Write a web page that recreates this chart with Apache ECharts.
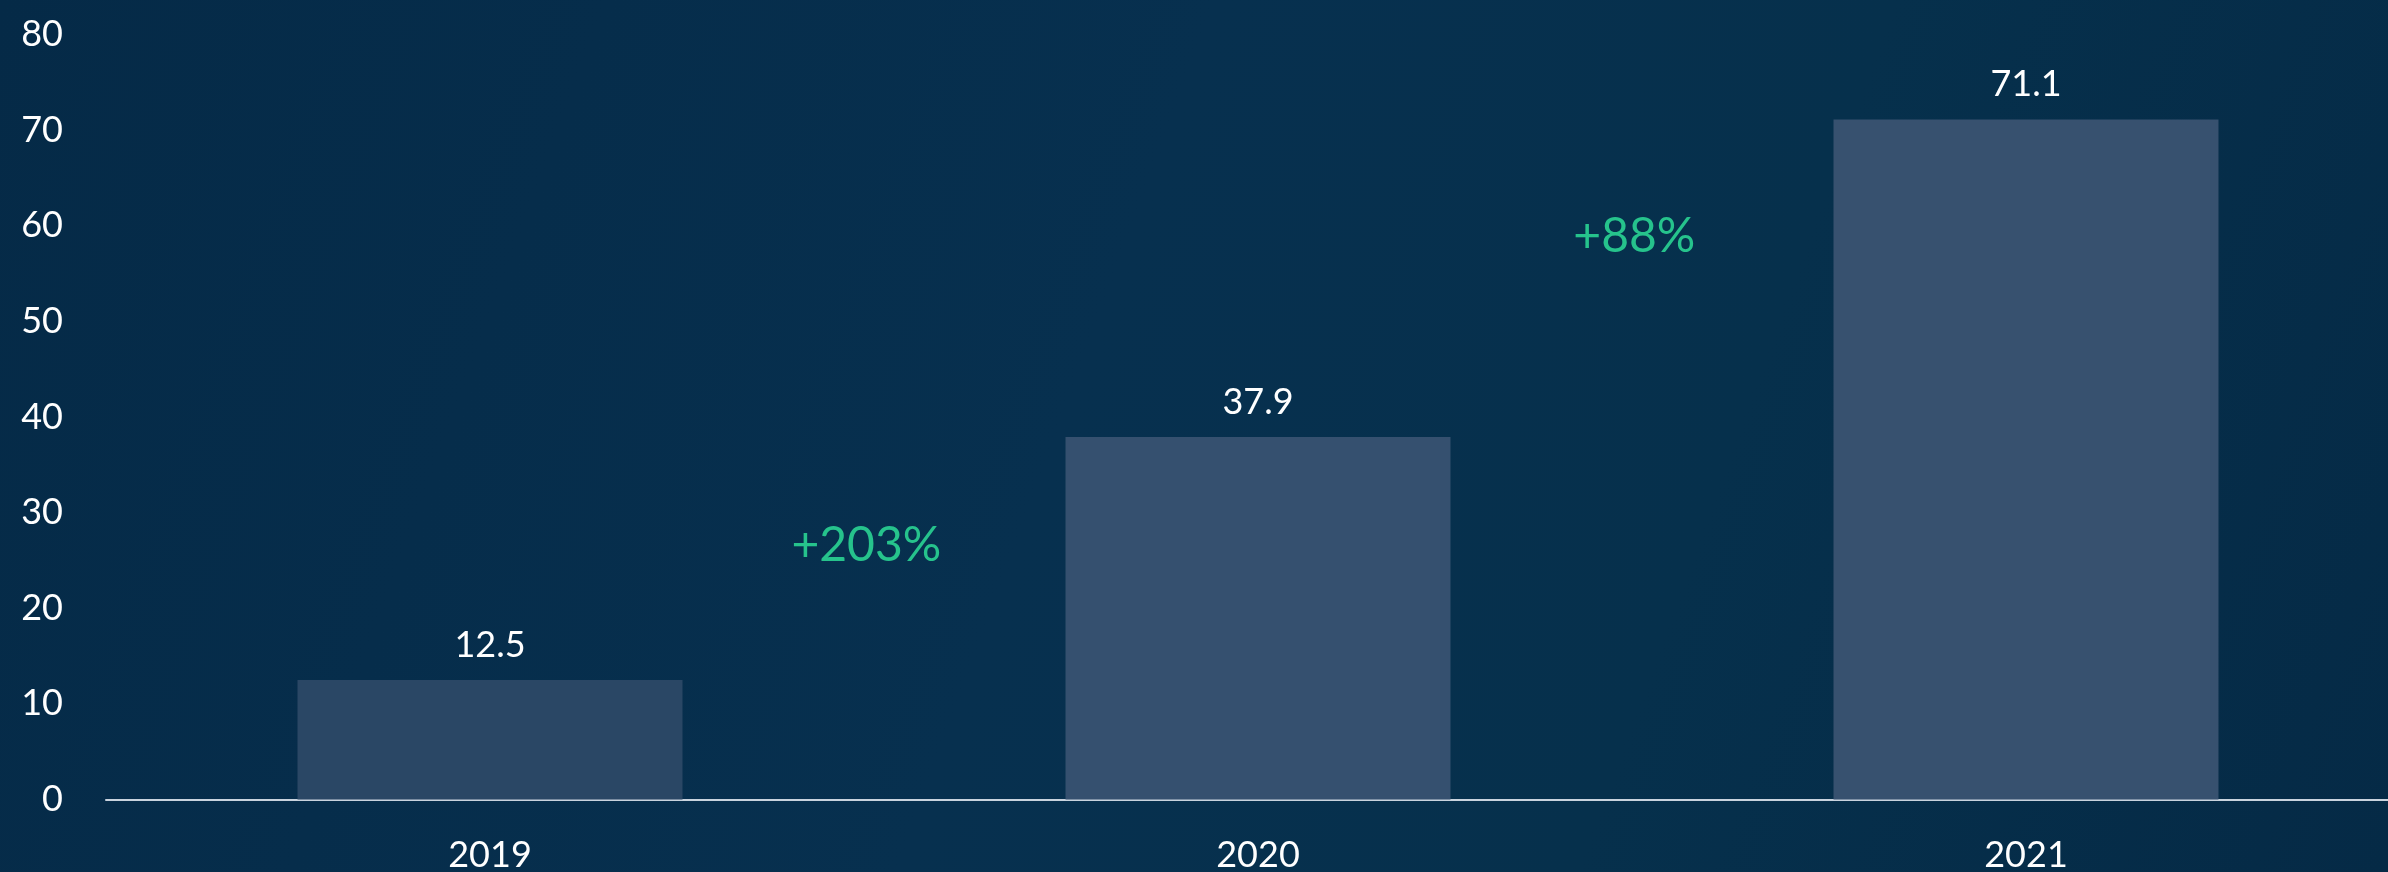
<!DOCTYPE html>
<html>
<head>
<meta charset="utf-8">
<style>
html,body{margin:0;padding:0;width:2388px;height:872px;overflow:hidden;background:#062b48;}
#c{width:2388px;height:872px;}
</style>
<script src="https://cdn.jsdelivr.net/npm/echarts@6/dist/echarts.min.js"></script>
</head>
<body>
<div id="c"></div>
<script>
const categories = ['2019', '2020', '2021'];
const values = [12.5, 37.9, 71.1];
const yTicks = [0, 10, 20, 30, 40, 50, 60, 70, 80];
const growthLabels = ['+203%', '+88%'];
const growthX = [0.49, 1.49];
const growthY = [26.6, 58.9];

const barColors = ['#2a4765', '#35506f', '#37516f'];
const FONT = 'Lato, "Noto Sans", sans-serif';

const chart = echarts.init(document.getElementById('c'), null, {renderer: 'canvas'});
chart.setOption({
  backgroundColor: {
    type: 'linear', x: 0, y: 0, x2: 1, y2: 1,
    colorStops: [
      {offset: 0, color: '#052a47'},
      {offset: 0.45, color: '#07304f'},
      {offset: 0.7, color: '#06304c'},
      {offset: 1, color: '#052a46'}
    ]
  },
  animation: false,
  grid: {left: 106, top: 34.5, width: 2304, height: 765, containLabel: false, outerBoundsMode: 'none'},
  xAxis: [{
    type: 'category',
    data: categories,
    axisLine: {show: true, lineStyle: {color: '#c9d3de', width: 2}},
    axisTick: {show: false},
    axisLabel: {color: '#ffffff', fontSize: 36, fontFamily: FONT, margin: 38}
  }, {
    type: 'value', min: -0.5, max: 2.5, show: false
  }],
  yAxis: {
    type: 'value', min: yTicks[0], max: yTicks[yTicks.length - 1], interval: yTicks[1] - yTicks[0],
    axisLine: {show: false}, axisTick: {show: false}, splitLine: {show: false},
    axisLabel: {color: '#ffffff', fontSize: 36, fontFamily: FONT, margin: 43}
  },
  series: [{
    type: 'bar',
    xAxisIndex: 0,
    barWidth: 385,
    data: values.map((v, i) => ({value: v, itemStyle: {color: barColors[i]}})),
    label: {show: true, position: 'top', distance: 17, color: '#ffffff', fontSize: 36, fontFamily: FONT}
  }, {
    type: 'scatter',
    xAxisIndex: 1,
    symbolSize: 0,
    data: growthLabels.map((t, i) => ({value: [growthX[i], growthY[i]], name: t})),
    label: {show: true, position: 'inside', formatter: p => p.name, color: '#2ee89c', fontSize: 48, fontFamily: FONT}
  }]
});
</script>
</body>
</html>
